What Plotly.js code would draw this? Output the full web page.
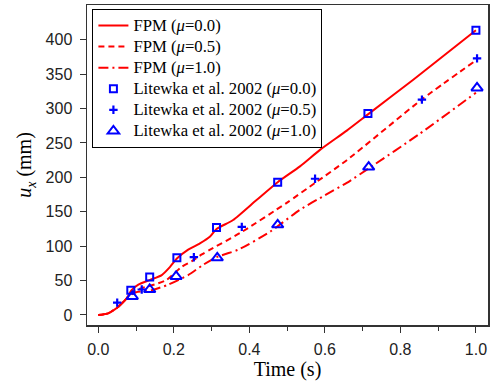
<!DOCTYPE html>
<html>
<head>
<meta charset="utf-8">
<script src="https://cdn.plot.ly/plotly-3.0.1.min.js"></script>
<style>html,body{margin:0;padding:0;background:#fff;}#chart{width:501px;height:384px;}</style>
</head>
<body>
<div id="chart"></div>
<script>
// FPM curves
const fpm0X = [0, 0.026, 0.053, 0.075, 0.088, 0.106, 0.137, 0.168, 0.19, 0.208, 0.238, 0.269, 0.296, 0.313, 0.357, 0.419, 0.475, 0.534, 0.587, 0.658, 0.715, 0.834, 1.0];
const fpm0Y = [0, 2.4, 12, 24, 36, 44, 51, 58, 70, 82, 95, 104, 114, 125, 138, 167, 193, 216, 240, 268, 292, 342, 414];
const fpm05X = [0, 0.026, 0.053, 0.075, 0.088, 0.115, 0.159, 0.181, 0.221, 0.247, 0.274, 0.296, 0.375, 0.499, 0.574, 0.658, 0.856, 1.0];
const fpm05Y = [0, 2.4, 12, 24, 33, 39, 46, 51, 70, 78, 88, 95, 119, 163, 192, 225, 313, 370];
const fpm1X = [0, 0.026, 0.053, 0.075, 0.088, 0.1, 0.141, 0.185, 0.238, 0.278, 0.313, 0.371, 0.455, 0.534, 0.6, 0.658, 0.716, 0.85, 1.0];
const fpm1Y = [0, 2.4, 12, 24, 30, 33, 36, 44, 58, 73, 84, 95, 121, 153, 174, 192, 213, 263, 323];
// Litewka et al. 2002 reference points
const lit0X = [0.086, 0.136, 0.208, 0.313, 0.475, 0.714, 1.0];
const lit0Y = [36, 55, 83, 127, 193, 293, 414];
const lit05X = [0.050, 0.115, 0.253, 0.380, 0.574, 0.857, 1.003];
const lit05Y = [18, 37, 84, 128, 198, 313, 373];
const lit1X = [0.090, 0.136, 0.206, 0.315, 0.475, 0.716, 1.003];
const lit1Y = [27, 37, 56, 83, 131, 215, 330];
// labels
const seriesNames = ['FPM (<i>μ</i>=0.0)', 'FPM (<i>μ</i>=0.5)', 'FPM (<i>μ</i>=1.0)',
  'Litewka et al. 2002 (<i>μ</i>=0.0)', 'Litewka et al. 2002 (<i>μ</i>=0.5)', 'Litewka et al. 2002 (<i>μ</i>=1.0)'];
const xTickVals = [0, 0.2, 0.4, 0.6, 0.8, 1.0];
const yTickVals = [0, 50, 100, 150, 200, 250, 300, 350, 400];

const big = s => '<span style="font-size:16.7px">' + s + '</span>';
const red = '#ff0000', blue = '#0000ff';
const traces = [
  {x: fpm0X, y: fpm0Y, mode: 'lines', name: big(seriesNames[0]), line: {color: red, width: 2, shape: 'spline', smoothing: 0.6}},
  {x: fpm05X, y: fpm05Y, mode: 'lines', name: big(seriesNames[1]), line: {color: red, width: 2, dash: '6px,4px', shape: 'spline', smoothing: 0.6}},
  {x: fpm1X, y: fpm1Y, mode: 'lines', name: big(seriesNames[2]), line: {color: red, width: 2, dash: '10px,4px,2px,4px', shape: 'spline', smoothing: 0.6}},
  {x: lit0X, y: lit0Y, mode: 'markers', name: big(seriesNames[3]), marker: {symbol: 'square-open', size: 7, color: blue, line: {width: 2, color: blue}}},
  {x: lit05X, y: lit05Y, mode: 'markers', name: big(seriesNames[4]), marker: {symbol: 'cross-thin-open', size: 6, color: blue, line: {width: 2.2, color: blue}}},
  {x: lit1X, y: lit1Y, mode: 'markers', name: big(seriesNames[5]), marker: {symbol: 'triangle-up-open', size: 10, color: blue, line: {width: 2, color: blue}}}
];

const layout = {
  width: 501, height: 384,
  margin: {l: 87, r: 13, t: 5, b: 59},
  paper_bgcolor: '#fff', plot_bgcolor: '#fff',
  showlegend: true,
  legend: {
    x: 0.0135, y: 0.9875, xanchor: 'left', yanchor: 'top',
    bgcolor: '#fff', bordercolor: '#000', borderwidth: 1,
    font: {family: 'Liberation Serif', size: 13.9, color: '#000'},
    tracegroupgap: 0
  },
  xaxis: {
    range: [-0.03, 1.032],
    tickvals: xTickVals,
    tickformat: '.1f',
    ticks: 'outside', ticklen: 6, tickwidth: 1, tickcolor: '#333',
    minor: {dtick: 0.1, tick0: 0, ticks: 'outside', ticklen: 4, tickcolor: '#333', showgrid: false},
    showgrid: false, zeroline: false,
    showline: true, mirror: true, linecolor: '#333', linewidth: 1.5,
    ticklabelstandoff: 3,
    tickfont: {family: 'Liberation Sans', size: 16, color: '#222'},
    title: {text: 'Time (s)', font: {family: 'Liberation Serif', size: 20, color: '#000'}, standoff: 0}
  },
  yaxis: {
    range: [-14.6, 450.6],
    tickvals: yTickVals,
    ticks: 'outside', ticklen: 6, tickwidth: 1, tickcolor: '#333',
    showgrid: false, zeroline: false,
    showline: true, mirror: true, linecolor: '#333', linewidth: 1.5,
    ticklabelstandoff: 4,
    tickfont: {family: 'Liberation Sans', size: 16, color: '#222'},
    title: {text: '<i>u</i><sub><i>x</i></sub> (mm)', font: {family: 'Liberation Serif', size: 20, color: '#000'}, standoff: 8}
  }
};

Plotly.newPlot('chart', traces, layout, {displayModeBar: false, staticPlot: true});
</script>
</body>
</html>
